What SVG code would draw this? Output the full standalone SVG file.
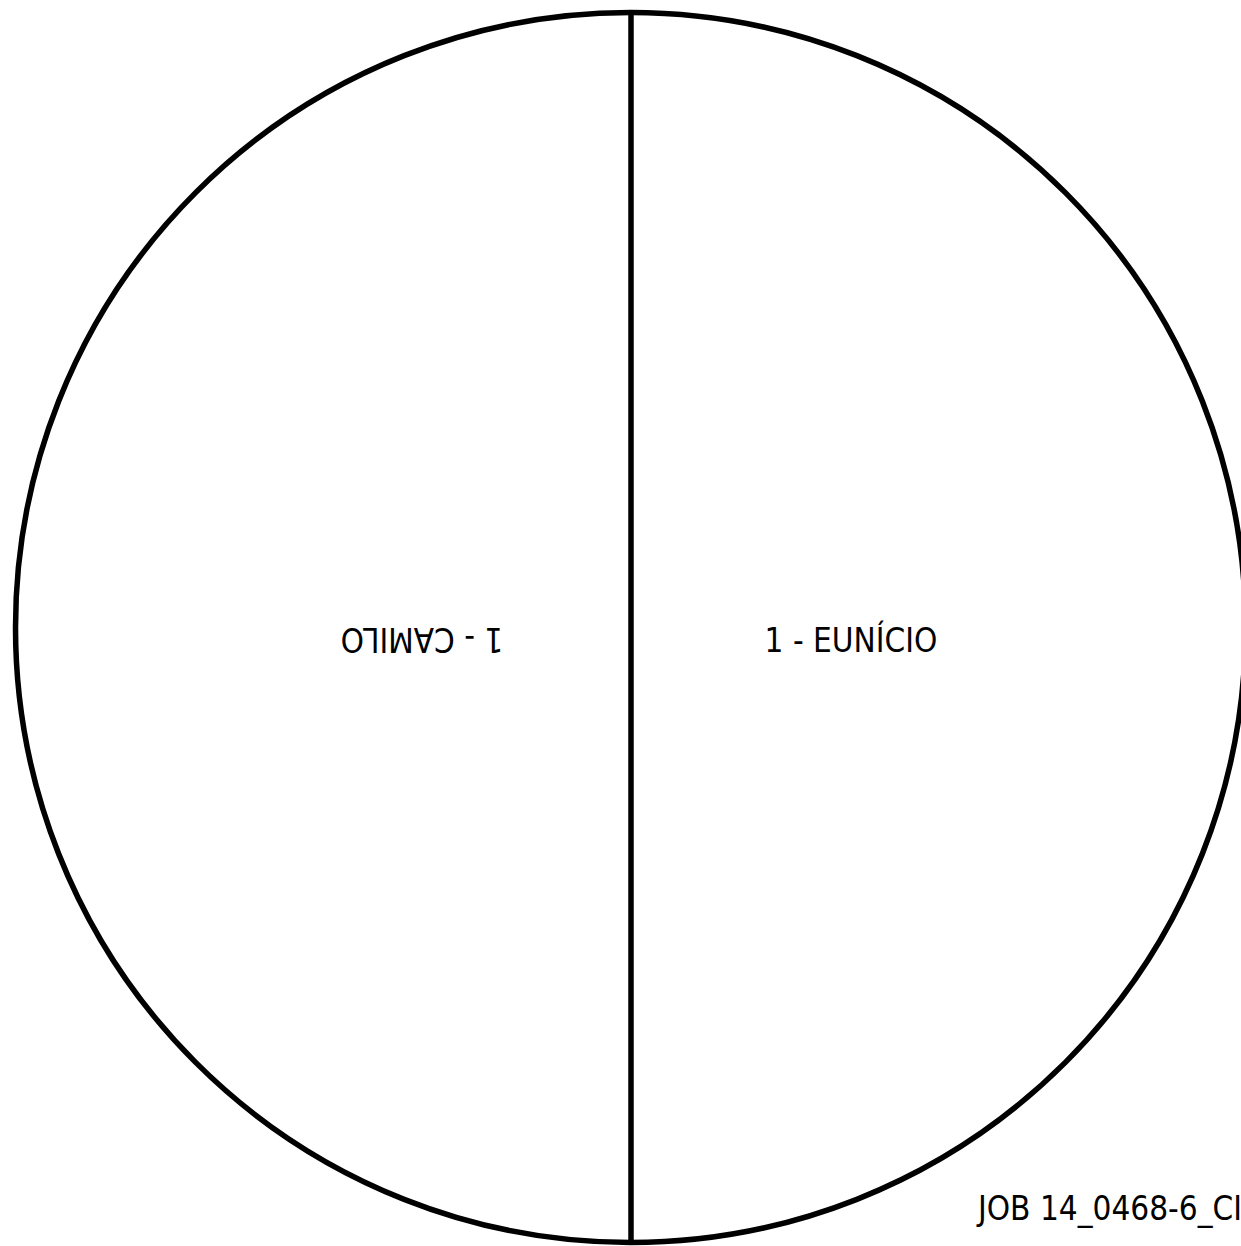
<svg xmlns="http://www.w3.org/2000/svg" width="1241" height="1246" viewBox="0 0 1241 1246">
<style>
.shape{fill:none;stroke:#000;stroke-width:5.5}
.lbl{font-family:"DejaVu Sans Condensed","DejaVu Sans",sans-serif;font-size:33px;fill:#000}
</style>
<rect width="1241" height="1246" fill="#fff"/>
<g id="circle"><circle class="shape" cx="630.5" cy="627.5" r="615"/></g>
<g id="connectors"><line class="shape" x1="631" y1="12" x2="631" y2="1243"/></g>
<g id="camilo"><text class="lbl" x="422" y="652" text-anchor="middle" transform="rotate(180 422 640)">1 - CAMILO</text></g>
<g id="eunicio"><text class="lbl" x="851" y="652" text-anchor="middle">1 - EUNÍCIO</text></g>
<g id="job"><text class="lbl" x="978" y="1220">JOB 14_0468-6_CI</text></g>
</svg>
